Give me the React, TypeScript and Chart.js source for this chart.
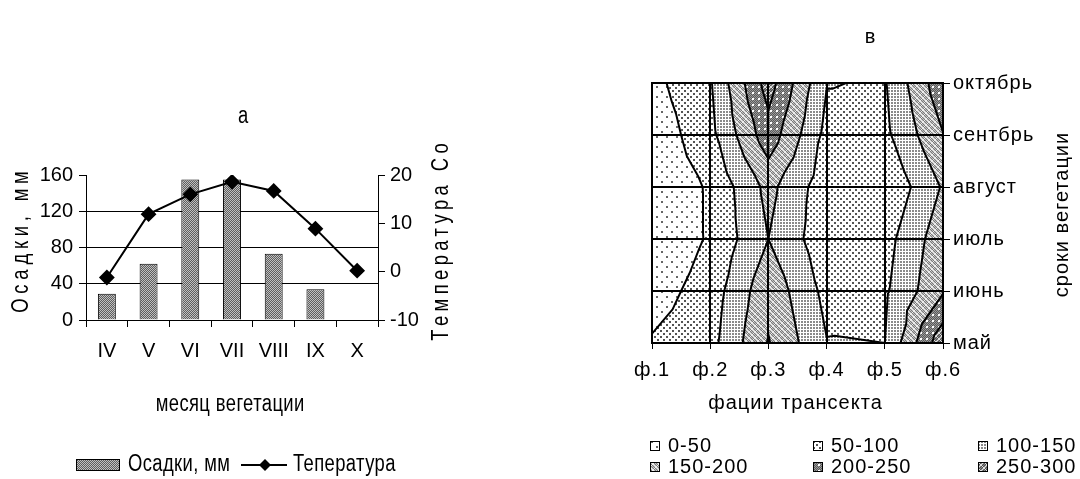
import React, { useEffect, useRef } from 'react';
import { Chart, registerables } from 'chart.js';
Chart.register(...registerables);

// ---- left chart data ----
const months = ['IV', 'V', 'VI', 'VII', 'VIII', 'IX', 'X'];
const precipitation = [29, 62, 155, 155, 73, 34, null];
const temperature = [-1.2, 11.9, 16.0, 18.6, 16.7, 8.9, 0.2];

// ---- right chart data (rows = periods, columns = facies) ----
const facies = ['ф.1', 'ф.2', 'ф.3', 'ф.4', 'ф.5', 'ф.6'];
const periods = ['май', 'июнь', 'июль', 'август', 'сентбрь', 'октябрь'];
const valuesMay = [55, 83, 203, 102, 100, 285];
const valuesJune = [27, 73, 185, 85, 92, 195];
const valuesJuly = [5, 56, 150, 67, 81, 181];
const valuesAugust = [10, 56, 165, 70, 55, 155];
const valuesSeptember = [15, 85, 230, 85, 88, 198];
const valuesOctober = [35, 95, 272, 102, 96, 235];
const bandLevels = [0, 50, 100, 150, 200, 250, 300];
const bandLabels = ['0-50', '50-100', '100-150', '150-200', '200-250', '250-300'];

const SANS = "'Liberation Sans', Arial, sans-serif";

function tile(w: number, h: number, fn: (x: number, y: number) => string) {
  const c = document.createElement('canvas');
  c.width = w; c.height = h;
  const g = c.getContext('2d')!;
  for (let y = 0; y < h; y++) for (let x = 0; x < w; x++) {
    g.fillStyle = fn(x, y); g.fillRect(x, y, 1, 1);
  }
  return c;
}

const bandTiles = () => [
  tile(10, 10, (x, y) => ((x >= 1 && x <= 2 && y >= 1 && y <= 2) || (x >= 6 && x <= 7 && y >= 6 && y <= 7) ? '#666' : '#fff')),
  tile(6, 6, (x, y) => ((x <= 1 && y <= 1) || (x >= 3 && x <= 4 && y >= 3 && y <= 4) ? '#555' : '#fff')),
  tile(3, 3, (x, y) => (x <= 1 && y <= 1 ? '#8a8a8a' : '#fff')),
  tile(6, 6, (x, y) => ((x + y) % 6 === 0 || (x - y + 6) % 6 === 3 ? '#eee' : (x + y) % 2 ? '#7a7a7a' : '#c4c4c4')),
  tile(6, 6, (x, y) => ((x >= 2 && x <= 3 && y >= 2 && y <= 3) ? '#fff' : (x + y) % 2 ? '#5a5a5a' : '#9a9a9a')),
  tile(6, 6, (x, y) => (x === y || x === 5 - y ? '#e0e0e0' : (x + y) % 2 ? '#505050' : '#8a8a8a')),
];

type P = { x: number; y: number; v: number };
function clip(poly: P[], level: number, above: boolean): P[] {
  const out: P[] = [];
  for (let i = 0; i < poly.length; i++) {
    const a = poly[i], b = poly[(i + 1) % poly.length];
    const ia = above ? a.v >= level : a.v <= level;
    const ib = above ? b.v >= level : b.v <= level;
    if (ia) out.push(a);
    if (ia !== ib) {
      const t = (level - a.v) / (b.v - a.v);
      out.push({ x: a.x + t * (b.x - a.x), y: a.y + t * (b.y - a.y), v: level });
    }
  }
  return out;
}

function triangles(): P[][] {
  const grid = [valuesMay, valuesJune, valuesJuly, valuesAugust, valuesSeptember, valuesOctober];
  const tris: P[][] = [];
  for (let r = 0; r < grid.length - 1; r++) {
    for (let c = 0; c < grid[r].length - 1; c++) {
      const p00 = { x: c, y: r, v: grid[r][c] };
      const p10 = { x: c + 1, y: r, v: grid[r][c + 1] };
      const p11 = { x: c + 1, y: r + 1, v: grid[r + 1][c + 1] };
      const p01 = { x: c, y: r + 1, v: grid[r + 1][c] };
      const ctr = { x: c + 0.5, y: r + 0.5, v: (p00.v + p10.v + p11.v + p01.v) / 4 };
      tris.push([p00, p10, ctr], [p10, p11, ctr], [p11, p01, ctr], [p01, p00, ctr]);
    }
  }
  return tris;
}

function textSpaced(ctx: CanvasRenderingContext2D, s: string, x: number, y: number, spacing: number,
  rot = 0, align: CanvasTextAlign = 'center', sx = 1) {
  ctx.save();
  ctx.translate(x, y);
  ctx.rotate(rot);
  ctx.scale(sx, 1);
  (ctx as any).letterSpacing = spacing + 'px';
  ctx.textAlign = align;
  ctx.textBaseline = 'middle';
  ctx.fillStyle = '#000';
  ctx.fillText(s, align === 'center' ? spacing / 2 : 0, 0);
  ctx.restore();
}

export default function App() {
  const leftRef = useRef<HTMLCanvasElement>(null);
  const rightRef = useRef<HTMLCanvasElement>(null);

  useEffect(() => {
    const lctx = leftRef.current!.getContext('2d')!;
    const barPattern = lctx.createPattern(tile(2, 2, (x, y) => ((x + y) % 2 ? '#5e5e5e' : '#c0c0c0')), 'repeat')!;

    const leftDecor = {
      id: 'leftDecor',
      afterDraw(chart: any) {
        const ctx = chart.ctx as CanvasRenderingContext2D;
        ctx.save();
        ctx.font = `23px ${SANS}`;
        const k = 0.8;
        textSpaced(ctx, 'а', 243, 117, 0, 0, 'center', k);
        textSpaced(ctx, 'Осадки, мм', 22, 242, 6, -Math.PI / 2, 'center', k);
        textSpaced(ctx, 'Температура Со', 442, 242, 5.5, -Math.PI / 2, 'center', k);
        textSpaced(ctx, 'месяц вегетации', 230, 405, 0.5, 0, 'center', k);
        // legend
        ctx.fillStyle = barPattern;
        ctx.fillRect(76, 459, 44, 12);
        ctx.strokeStyle = '#000';
        ctx.lineWidth = 1;
        ctx.strokeRect(76.5, 459.5, 43, 11);
        textSpaced(ctx, 'Осадки, мм', 128, 465, 0.5, 0, 'left', k);
        ctx.beginPath();
        ctx.moveTo(241, 465); ctx.lineTo(287, 465);
        ctx.lineWidth = 2; ctx.stroke();
        ctx.beginPath();
        ctx.moveTo(265, 459); ctx.lineTo(271, 465); ctx.lineTo(265, 471); ctx.lineTo(259, 465); ctx.closePath();
        ctx.fillStyle = '#000'; ctx.fill();
        textSpaced(ctx, 'Тепература', 293, 465, 0.5, 0, 'left', k);
        ctx.restore();
      },
    };

    const tickFont = { family: SANS, size: 20 };
    const left = new Chart(leftRef.current!, {
      type: 'bar',
      data: {
        labels: months,
        datasets: [
          {
            type: 'line', label: 'Тепература', data: temperature, yAxisID: 'yT',
            borderColor: '#000', borderWidth: 2, pointStyle: 'rectRot', pointRadius: 6.5,
            pointBackgroundColor: '#000', pointBorderColor: '#000', order: 0,
          } as any,
          {
            type: 'bar', label: 'Осадки, мм', data: precipitation, yAxisID: 'yP',
            backgroundColor: barPattern, borderColor: '#000', borderWidth: 1,
            barPercentage: 0.43, categoryPercentage: 1, order: 1,
          } as any,
        ],
      },
      options: {
        responsive: false, animation: false, devicePixelRatio: 1,
        layout: { padding: { top: 175, left: 0, right: 0, bottom: 0 } },
        plugins: { legend: { display: false }, tooltip: { enabled: false }, title: { display: false } },
        scales: {
          x: {
            offset: true,
            grid: { offset: true, drawOnChartArea: false, tickLength: 7, tickColor: '#000', color: '#000' },
            border: { color: '#000', width: 1 },
            ticks: { color: '#000', font: tickFont, padding: 12, maxRotation: 0 },
            afterFit: (s: any) => { s.height = 159; },
          },
          yP: {
            position: 'left', min: 0, max: 160,
            ticks: { stepSize: 40, color: '#000', font: tickFont, padding: 6 },
            grid: {
              color: (c: any) => (c.tick && (c.tick.value === 0 || c.tick.value === 160) ? 'rgba(0,0,0,0)' : '#000'),
              tickColor: '#000', tickLength: 7,
            },
            border: { color: '#000' },
            afterFit: (s: any) => { s.width = 86; },
          },
          yT: {
            position: 'right', min: -10, max: 20,
            ticks: { stepSize: 10, color: '#000', font: tickFont, padding: 5 },
            grid: { drawOnChartArea: false, tickColor: '#000', tickLength: 7 },
            border: { color: '#000' },
            afterFit: (s: any) => { s.width = 162; },
          },
        },
      } as any,
      plugins: [leftDecor],
    });

    // ---- right chart ----
    const rctx = rightRef.current!.getContext('2d')!;
    const patterns = bandTiles().map((t) => rctx.createPattern(t, 'repeat')!);
    const tris = triangles();

    const contour = {
      id: 'contour',
      beforeDraw(chart: any) {
        (chart.ctx as any).letterSpacing = '1px';
      },
      beforeDatasetsDraw(chart: any) {
        const { ctx, chartArea: a, scales } = chart;
        const xs = scales.x, ys = scales.y;
        const px = (p: P) => [xs.getPixelForValue(p.x), ys.getPixelForValue(p.y)];
        ctx.save();
        ctx.beginPath();
        ctx.rect(a.left, a.top, a.right - a.left, a.bottom - a.top);
        ctx.clip();
        for (let k = 0; k < bandLevels.length - 1; k++) {
          ctx.beginPath();
          for (const t of tris) {
            let poly = clip(t, bandLevels[k], true);
            if (poly.length >= 3) poly = clip(poly, bandLevels[k + 1], false);
            if (poly.length < 3) continue;
            poly.forEach((p, i) => {
              const [X, Y] = px(p);
              if (i === 0) ctx.moveTo(X, Y); else ctx.lineTo(X, Y);
            });
            ctx.closePath();
          }
          ctx.fillStyle = patterns[k];
          ctx.fill();
          ctx.strokeStyle = patterns[k];
          ctx.lineWidth = 0.8;
          ctx.stroke();
        }
        // contour lines
        ctx.beginPath();
        for (let k = 1; k < bandLevels.length - 1; k++) {
          const L = bandLevels[k] + 1e-6;
          for (const t of tris) {
            const pts: number[][] = [];
            for (let i = 0; i < 3; i++) {
              const p = t[i], q = t[(i + 1) % 3];
              if ((p.v - L) * (q.v - L) < 0) {
                const s = (L - p.v) / (q.v - p.v);
                pts.push(px({ x: p.x + s * (q.x - p.x), y: p.y + s * (q.y - p.y), v: L }));
              }
            }
            if (pts.length === 2) {
              ctx.moveTo(pts[0][0], pts[0][1]);
              ctx.lineTo(pts[1][0], pts[1][1]);
            }
          }
        }
        ctx.strokeStyle = '#000';
        ctx.lineWidth = 2;
        ctx.lineJoin = 'round';
        ctx.lineCap = 'round';
        ctx.stroke();
        ctx.restore();
      },
      afterDatasetsDraw(chart: any) {
        const { ctx, chartArea: a, scales } = chart;
        ctx.save();
        ctx.strokeStyle = '#000';
        ctx.lineWidth = 2;
        ctx.beginPath();
        for (let i = 1; i < facies.length - 1; i++) {
          const X = Math.round(scales.x.getPixelForValue(i));
          ctx.moveTo(X, a.top); ctx.lineTo(X, a.bottom);
        }
        for (let i = 1; i < periods.length - 1; i++) {
          const Y = Math.round(scales.y.getPixelForValue(i));
          ctx.moveTo(a.left, Y); ctx.lineTo(a.right, Y);
        }
        ctx.stroke();
        ctx.strokeRect(a.left, a.top, a.right - a.left, a.bottom - a.top);
        ctx.restore();
      },
      afterDraw(chart: any) {
        const ctx = chart.ctx as CanvasRenderingContext2D;
        ctx.save();
        ctx.font = `20px ${SANS}`;
        textSpaced(ctx, 'в', 330, 37, 1);
        textSpaced(ctx, 'сроки вегетации', 522, 215, 1, -Math.PI / 2);
        textSpaced(ctx, 'фации трансекта', 255, 403, 1);
        const colX = [110, 273, 438];
        const rowY = [446, 467];
        bandLabels.forEach((lab, k) => {
          const bx = colX[k % 3], by = rowY[Math.floor(k / 3)];
          ctx.fillStyle = patterns[k];
          ctx.fillRect(bx, by - 5, 10, 10);
          ctx.strokeStyle = '#000';
          ctx.lineWidth = 1;
          ctx.strokeRect(bx + 0.5, by - 4.5, 9, 9);
          textSpaced(ctx, lab, bx + 18, by, 1, 0, 'left');
        });
        ctx.restore();
      },
    };

    const rFont = { family: SANS, size: 20 };
    const right = new Chart(rightRef.current!, {
      type: 'scatter',
      data: { datasets: [{ label: 'contour', data: [] }] },
      options: {
        responsive: false, animation: false, devicePixelRatio: 1,
        layout: { padding: { top: 83, left: 112, right: 0, bottom: 0 } },
        plugins: { legend: { display: false }, tooltip: { enabled: false } },
        scales: {
          x: {
            type: 'linear', min: 0, max: facies.length - 1,
            ticks: { stepSize: 1, autoSkip: false, maxRotation: 0, color: '#000', font: rFont, padding: 9, callback: (v: any) => facies[v] },
            grid: { drawOnChartArea: false, tickLength: 6, tickColor: '#000' },
            border: { display: false },
            afterFit: (s: any) => { s.height = 136; },
          },
          y: {
            type: 'linear', position: 'right', min: 0, max: periods.length - 1,
            ticks: { stepSize: 1, autoSkip: false, color: '#000', font: rFont, padding: 3, callback: (v: any) => periods[v] },
            grid: { drawOnChartArea: false, tickLength: 7, tickColor: '#000' },
            border: { display: false },
            afterFit: (s: any) => { s.width = 137; },
          },
        },
      } as any,
      plugins: [contour],
    });

    return () => { left.destroy(); right.destroy(); };
  }, []);

  return (
    <div style={{ position: 'fixed', left: 0, top: 0, width: 1080, height: 479, background: '#fff' }}>
      <canvas ref={leftRef} width={540} height={479} style={{ position: 'absolute', left: 0, top: 0, width: 540, height: 479 }} />
      <canvas ref={rightRef} width={540} height={479} style={{ position: 'absolute', left: 540, top: 0, width: 540, height: 479 }} />
    </div>
  );
}
